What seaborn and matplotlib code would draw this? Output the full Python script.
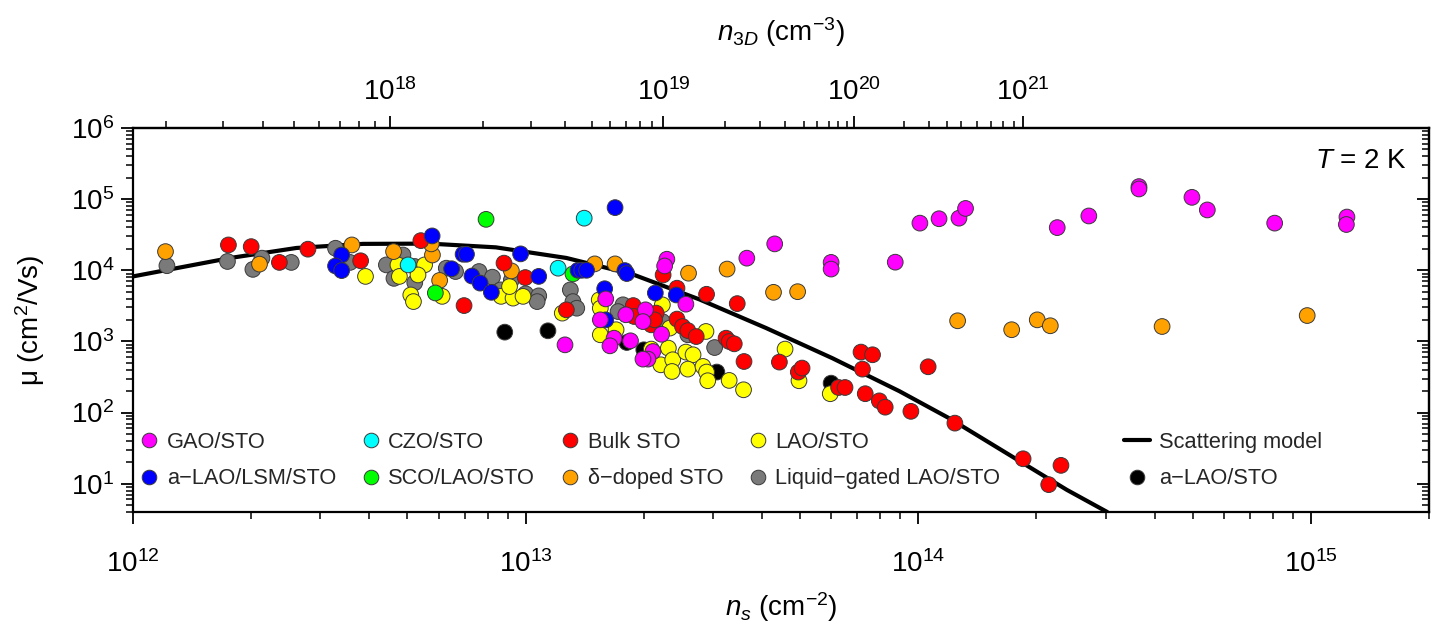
import numpy as np
import pandas as pd
import matplotlib
matplotlib.use("Agg")
import matplotlib.pyplot as plt
import seaborn as sns
from matplotlib.lines import Line2D
from matplotlib.ticker import LogLocator, NullFormatter, LogFormatterSciNotation

# ---------------- data (ns in units of 1e12 cm^-2, mobility in cm^2/Vs) ----------------
gao_ns = [12.6, 22.9, 22.6, 36.6, 43.1, 60.0, 60.0, 87.4, 101, 113, 127, 132, 226, 272, 365, 365,
          498, 545, 809, 1236, 1232, 25.6, 16.0, 15.5, 16.8, 16.4, 18.5, 18.0, 20.2, 19.9, 22.2,
          21.1, 20.5, 19.9]
gao_mu = [895, 14300, 11500, 14800, 23500, 12900, 10400, 13000, 46000, 53000, 54000, 74000, 39800,
          58000, 150000, 139000, 106000, 70500, 46000, 56000, 44000, 3340, 3960, 2010, 1110, 867,
          1020, 2370, 2780, 1900, 1260, 721, 564, 564]

czo_ns = [5.02, 12.1, 14.1]
czo_mu = [11900, 10700, 54000]

bulk_ns = [1.75, 2.0, 2.36, 2.79, 3.80, 5.41, 6.97, 8.81, 9.98, 12.7, 22.4, 24.3, 28.9, 34.6, 18.8,
           18.9, 21.5, 20.9, 21.3, 24.3, 25.1, 25.9, 27.2, 32.4, 33.0, 34.0, 36.0, 44.3, 49.5, 50.6,
           62.7, 65.1, 71.5, 76.5, 72.1, 73.3, 79.6, 82.4, 95.8, 106, 124, 185, 231, 215]
bulk_mu = [22700, 21500, 12900, 19800, 13600, 26100, 3190, 12600, 7900, 2780, 8600, 5600, 4600, 3400,
           3190, 2240, 2500, 1710, 2010, 2060, 1620, 1420, 1170, 1110, 997, 925, 522, 512, 371, 422,
           225, 225, 708, 649, 408, 184, 146, 119, 104, 440, 71, 22.4, 18.1, 9.7]

lao_ns = [3.91, 4.73, 4.77, 5.53, 5.32, 5.10, 5.18, 6.13, 8.66, 9.29, 9.10, 9.85, 12.4, 22.3, 15.4,
          15.5, 15.5, 17.0, 23.3, 28.8, 20.9, 23.1, 22.1, 23.7, 23.6, 25.6, 26.7, 25.9, 28.3, 28.9,
          29.1, 33.0, 35.9, 45.8, 49.7, 59.7]
lao_mu = [8200, 11900, 8200, 11900, 8600, 4500, 3630, 4300, 4300, 4060, 5900, 4300, 2500, 3270, 3840,
          2930, 1240, 1460, 1540, 1380, 780, 805, 469, 552, 378, 708, 649, 408, 445, 371, 280, 283,
          209, 780, 280, 184]

alsm_ns = [3.40, 3.28, 3.40, 5.78, 6.48, 6.93, 7.07, 7.30, 7.66, 8.18, 9.71, 10.8, 13.6, 16.9, 13.9,
           14.3, 17.9, 18.1, 15.9, 16.0, 21.4, 24.2]
alsm_mu = [16400, 11500, 9900, 30400, 10500, 16800, 16800, 8300, 6600, 4900, 17000, 8200, 10000,
           76000, 10000, 10000, 9900, 9000, 5500, 2010, 4800, 4500]

sco_ns = [5.89, 7.93, 13.2]
sco_mu = [4800, 52000, 8900]

delta_ns = [1.21, 2.10, 3.61, 4.61, 5.79, 5.75, 6.04, 9.20, 15.0, 16.9, 26.0, 32.6, 42.8, 49.3, 126,
            173, 201, 217, 418, 979]
delta_mu = [18300, 12200, 22700, 18300, 16400, 23500, 7200, 9800, 12300, 12300, 9100, 10400, 4900,
            5000, 1950, 1460, 2010, 1660, 1620, 2310]

liquid_ns = [1.22, 1.74, 2.13, 2.02, 2.53, 3.28, 3.57, 4.87, 4.42, 4.62, 5.22, 5.22, 6.28, 6.63, 7.61,
             8.23, 8.64, 9.20, 10.0, 10.8, 10.7, 13.0, 13.2, 13.5, 17.7, 17.2, 22.3, 25.9, 30.3]
liquid_mu = [11600, 13300, 14800, 10300, 12900, 20400, 12900, 16400, 11900, 7700, 11300, 6700, 10700,
             9600, 9600, 8000, 5300, 7300, 4670, 4370, 3630, 5300, 3630, 2930, 3270, 2630, 1900, 1240,
             820]

alao_ns = [8.85, 11.4, 18.1, 20.0, 30.7, 60.0]
alao_mu = [1350, 1410, 966, 762, 371, 259]

model_ns = [1.0, 1.77, 2.61, 3.85, 5.7, 8.4, 12.7, 18.7, 27.7, 41, 60.4, 89.5, 120, 239, 303]
model_mu = [8200, 14900, 20600, 23500, 23700, 21000, 14900, 8800, 3900, 1540, 582, 200, 83, 8.2, 4.0]

# top axis: n3D tick values (log10) and the ns (log10) they sit above
n3d_knots = [17.301, 17.699, 18.0, 18.301, 18.699, 19.0, 19.301, 19.699, 20.0, 20.301, 20.699, 21.0]
ns_knots = [12.084, 12.410, 12.654, 12.891, 13.168, 13.351, 13.509, 13.710, 13.837, 13.964, 14.109, 14.267]

groups = ["Liquid\u2212gated LAO/STO", "a\u2212LAO/STO", "LAO/STO", "\u03b4\u2212doped STO", "SCO/LAO/STO",
          "CZO/STO", "Bulk STO", "a\u2212LAO/LSM/STO", "GAO/STO"]
group_data = [(liquid_ns, liquid_mu), (alao_ns, alao_mu), (lao_ns, lao_mu), (delta_ns, delta_mu),
              (sco_ns, sco_mu), (czo_ns, czo_mu), (bulk_ns, bulk_mu), (alsm_ns, alsm_mu), (gao_ns, gao_mu)]
colors = {"GAO/STO": "#ff00ff", "CZO/STO": "#00ffff", "Bulk STO": "#ff0000", "LAO/STO": "#ffff00",
          "a\u2212LAO/LSM/STO": "#0000ff", "SCO/LAO/STO": "#00ff00", "\u03b4\u2212doped STO": "#ffa200",
          "Liquid\u2212gated LAO/STO": "#7a7a7a", "a\u2212LAO/STO": "#000000"}

frames = []
for g, (xs, ys) in zip(groups, group_data):
    frames.append(pd.DataFrame({"ns": np.array(xs) * 1e12, "mu": ys, "group": g}))
df = pd.concat(frames, ignore_index=True)
model_df = pd.DataFrame({"ns": np.array(model_ns) * 1e12, "mu": model_mu})

# ---------------- style ----------------
sns.set_theme(style="ticks")
plt.rcParams["font.family"] = ["Liberation Sans", "DejaVu Sans"]
plt.rcParams["mathtext.fontset"] = "custom"
plt.rcParams["mathtext.rm"] = "Liberation Sans"
plt.rcParams["mathtext.it"] = "Liberation Sans:italic"
plt.rcParams["mathtext.bf"] = "Liberation Sans:bold"
plt.rcParams["axes.unicode_minus"] = True

W, H = 1446, 642
fig = plt.figure(figsize=(W / 100, H / 100), dpi=100)
L, R, T, B = 133, 1429, 128, 512
ax = fig.add_axes([L / W, 1 - B / H, (R - L) / W, (B - T) / H])
ax.set_xscale("log")
ax.set_yscale("log")

sns.lineplot(data=model_df, x="ns", y="mu", color="black", lw=3, sort=False, estimator=None,
             ax=ax, zorder=2)
sns.scatterplot(data=df, x="ns", y="mu", hue="group", palette=colors, s=128,
                edgecolor="#3a3a3a", linewidth=0.7, legend=False, ax=ax, zorder=3)

ax.set_xlim(1e12, 2e15)
ax.set_ylim(4, 1e6)

for s in ax.spines.values():
    s.set_linewidth(1.6)
    s.set_color("black")
    s.set_visible(True)

ax.xaxis.set_major_locator(LogLocator(base=10, numticks=20))
ax.xaxis.set_minor_locator(LogLocator(base=10, subs=np.arange(2, 10), numticks=40))
ax.yaxis.set_major_locator(LogLocator(base=10, numticks=20))
ax.yaxis.set_minor_locator(LogLocator(base=10, subs=np.arange(2, 10), numticks=40))
ax.xaxis.set_minor_formatter(NullFormatter())
ax.yaxis.set_minor_formatter(NullFormatter())
ax.xaxis.set_major_formatter(LogFormatterSciNotation())
ax.yaxis.set_major_formatter(LogFormatterSciNotation())
ax.tick_params(which="major", direction="out", length=8.5, width=1.3, labelsize=20, color="black",
               top=False, right=False, labelcolor="black")
ax.tick_params(which="minor", direction="out", length=4.8, width=1.1, color="black",
               top=False, right=False)
ax.tick_params(axis="x", which="major", pad=19)
ax.tick_params(axis="y", which="major", pad=5)

ax.set_xlabel(r"$n_s$ (cm$^{-2}$)", fontsize=20, labelpad=9, color="black")
ax.set_ylabel("\u03bc (cm$^2$/Vs)", fontsize=20, labelpad=17, color="black")


# ---------------- top axis (n3D) ----------------
def _ext_interp(x, xp, fp):
    x = np.asarray(x, dtype=float)
    xp = np.asarray(xp, dtype=float)
    fp = np.asarray(fp, dtype=float)
    y = np.interp(x, xp, fp)
    s0 = (fp[1] - fp[0]) / (xp[1] - xp[0])
    s1 = (fp[-1] - fp[-3]) / (xp[-1] - xp[-3])
    y = np.where(x < xp[0], fp[0] + (x - xp[0]) * s0, y)
    y = np.where(x > xp[-1], fp[-1] + (x - xp[-1]) * s1, y)
    return y


def ns_to_n3d(x):
    with np.errstate(all="ignore"):
        lx = np.log10(np.clip(np.asarray(x, dtype=float), 1e-300, None))
        return 10.0 ** np.clip(_ext_interp(lx, ns_knots, n3d_knots), -300, 300)


def n3d_to_ns(x):
    with np.errstate(all="ignore"):
        lx = np.log10(np.clip(np.asarray(x, dtype=float), 1e-300, None))
        return 10.0 ** np.clip(_ext_interp(lx, n3d_knots, ns_knots), -300, 300)


secx = ax.secondary_xaxis("top", functions=(ns_to_n3d, n3d_to_ns))
top_major = [1e18, 1e19, 1e20, 1e21]
top_minor = [k * 10.0 ** e for e in range(17, 21) for k in range(2, 10)]
secx.set_xticks(top_major, labels=[r"$10^{18}$", r"$10^{19}$", r"$10^{20}$", r"$10^{21}$"])
secx.set_xticks(top_minor, minor=True)
secx.xaxis.set_minor_formatter(NullFormatter())
secx.tick_params(which="major", direction="out", length=8.5, width=1.3, labelsize=20, pad=7,
                 color="black", labelcolor="black")
secx.tick_params(which="minor", direction="out", length=4.8, width=1.1, color="black")
secx.set_xlabel(r"$n_{\mathit{3D}}$ (cm$^{-3}$)", fontsize=20, labelpad=27, color="black")
for s in secx.spines.values():
    s.set_linewidth(1.6)

# ---------------- right axis ticks pointing inward ----------------
secy = ax.secondary_yaxis("right")
secy.yaxis.set_major_locator(LogLocator(base=10, numticks=20))
secy.yaxis.set_minor_locator(LogLocator(base=10, subs=np.arange(2, 10), numticks=40))
secy.tick_params(which="major", direction="in", length=9, width=1.3, labelright=False, color="black")
secy.tick_params(which="minor", direction="in", length=5, width=1.1, labelright=False, color="black")
for s in secy.spines.values():
    s.set_linewidth(1.6)

ax.text(0.983, 0.896, r"$T$ = 2 K", transform=ax.transAxes, ha="right", va="baseline",
        fontsize=20, color="black")

# ---------------- legends ----------------
def mk(c):
    return Line2D([], [], marker="o", ls="none", markersize=10.5, markerfacecolor=c,
                  markeredgecolor="#3a3a3a", markeredgewidth=0.7)

order1 = ["GAO/STO", "a\u2212LAO/LSM/STO", "CZO/STO", "SCO/LAO/STO", "Bulk STO",
          "\u03b4\u2212doped STO", "LAO/STO", "Liquid\u2212gated LAO/STO"]
leg1 = ax.legend(handles=[mk(colors[g]) for g in order1], labels=order1, ncol=4,
                 loc="center left", bbox_to_anchor=(0.005, 0.134), frameon=False, fontsize=15.7,
                 handlelength=0.9, handletextpad=0.35, columnspacing=1.15, labelspacing=0.72,
                 borderaxespad=0, borderpad=0)
ax.add_artist(leg1)
h2 = [Line2D([], [], color="black", lw=3), mk("#000000")]
ax.legend(handles=h2, labels=["Scattering model", "a\u2212LAO/STO"], loc="center left",
          bbox_to_anchor=((1124 - L) / (R - L), 0.134), frameon=False, fontsize=15.7,
          handlelength=1.2, handletextpad=0.4, labelspacing=0.72, borderaxespad=0, borderpad=0)

fig.savefig("out.png", dpi=100)
